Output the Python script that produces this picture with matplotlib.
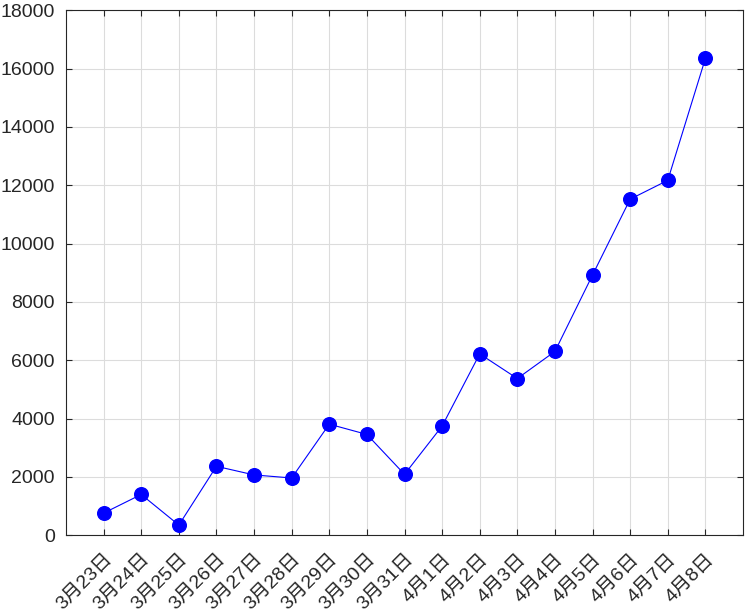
import matplotlib
matplotlib.use("Agg")
import matplotlib.pyplot as plt

dates = ["3月23日", "3月24日", "3月25日", "3月26日", "3月27日", "3月28日", "3月29日",
         "3月30日", "3月31日", "4月1日", "4月2日", "4月3日", "4月4日", "4月5日",
         "4月6日", "4月7日", "4月8日"]
values = [760, 1400, 350, 2365, 2070, 1965, 3810, 3458, 2090, 3745, 6220, 5375,
          6305, 8925, 11525, 12170, 16350]
yticks = [0, 2000, 4000, 6000, 8000, 10000, 12000, 14000, 16000, 18000]

plt.rcParams['font.family'] = ['Liberation Sans', 'Noto Sans CJK SC']

fig = plt.figure(figsize=(7.46, 6.13), dpi=100)
ax = fig.add_axes([66/746, (613-535.3)/613, (743-66)/746, (535.3-10.3)/613])

x = list(range(1, len(dates) + 1))
ax.plot(x, values, color='#0000ff', linewidth=0.8, marker='o', markersize=9.8,
        markerfacecolor='#0000ff', markeredgecolor='#0000ff')

ax.set_xlim(0, len(dates) + 1)
ax.set_ylim(0, 18000)
ax.set_yticks(yticks)
ax.set_yticklabels([str(v) for v in yticks])
ax.set_xticks(x)
ax.set_xticklabels(dates, rotation=45, ha='right', va='top', rotation_mode='anchor')

ax.grid(True, color='#dcdcdc', linewidth=0.8)
ax.set_axisbelow(True)
ax.tick_params(direction='in', length=4, width=0.8, top=True, right=True,
               labelsize=14, colors='#262626')
ax.tick_params(axis='x', pad=11)
ax.tick_params(axis='y', pad=8)
for s in ax.spines.values():
    s.set_color('#262626')
    s.set_linewidth(0.8)

fig.savefig("out.png", dpi=100)
